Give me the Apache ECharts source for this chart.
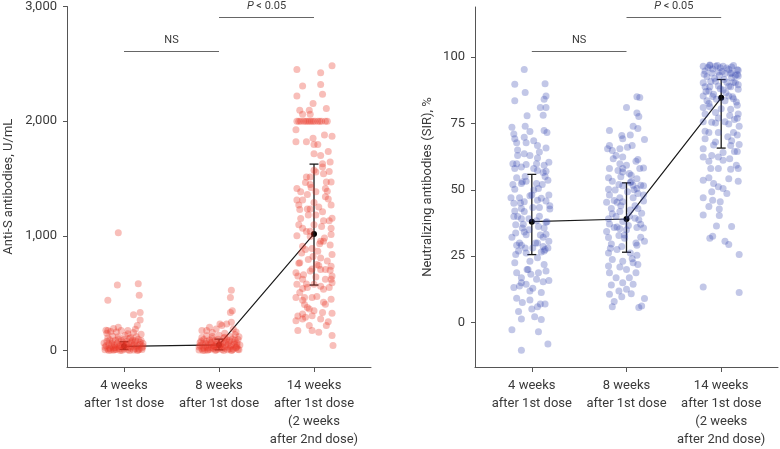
<!DOCTYPE html>
<html><head><meta charset="utf-8">
<script src="https://cdn.jsdelivr.net/npm/echarts@6/dist/echarts.min.js"></script>
<style>html,body{margin:0;padding:0;background:#fff}#c{width:780px;height:449px}</style>
</head><body><div id="c"></div>
<script>
// ---------- DATA ----------
const categories = ['4 weeks\nafter 1st dose', '8 weeks\nafter 1st dose', '14 weeks\nafter 1st dose\n(2 weeks\nafter 2nd dose)'];
const leftTicks = [0, 1000, 2000, 3000];
const rightTicks = [0, 25, 50, 75, 100];

// Anti-S antibodies (U/mL): [jitter, value]
const antiS_w4 = [[-0.20,5],[-0.17,12],[-0.14,3],[-0.11,20],[-0.08,8],[-0.05,15],[-0.02,2],[0.01,25],[0.04,6],[0.07,18],[0.10,4],[0.13,30],[0.16,10],[0.19,22],
[-0.19,40],[-0.16,55],[-0.13,35],[-0.10,48],[-0.07,62],[-0.04,38],[-0.01,70],[0.02,45],[0.05,58],[0.08,33],[0.11,66],[0.14,42],[0.17,52],[0.20,36],
[-0.18,80],[-0.15,92],[-0.12,75],[-0.09,88],[-0.06,100],[-0.03,84],[0.00,95],[0.03,78],[0.06,105],[0.09,90],[0.12,82],[0.15,98],[0.18,86],
[-0.20,28],[-0.15,18],[-0.10,7],[-0.05,44],[0.00,12],[0.05,27],[0.10,50],[0.15,3],[0.20,60],
[-0.17,110],[-0.12,125],[-0.06,118],[0.01,130],[0.07,112],[0.13,120],[0.18,140],
[-0.18,150],[-0.08,160],[0.10,155],[-0.14,165],[0.04,145],
[-0.21,65],[-0.09,25],[0.03,55],[0.12,14],[0.17,72],[-0.02,50],[-0.13,60],[0.08,75],[-0.06,32],[0.19,8],[-0.16,0],[0.06,0],[-0.04,0],[0.14,0],[-0.11,1],[0.00,40],
[-0.06,1026],[-0.17,438],[-0.07,570],[0.15,582],[0.16,481],[0.17,331],[0.10,311],[0.17,265],[0.14,216],[-0.06,202],[-0.17,173],[-0.03,173],[0.04,173],[-0.11,190],[0.12,185],[-0.19,175]];
const antiS_w8 = [[-0.21,4],[-0.18,14],[-0.15,2],[-0.12,22],[-0.09,9],[-0.06,16],[-0.03,3],[0.00,27],[0.03,7],[0.06,19],[0.09,5],[0.12,31],[0.15,11],[0.18,23],[0.21,6],
[-0.20,42],[-0.17,57],[-0.14,37],[-0.11,50],[-0.08,64],[-0.05,39],[-0.02,72],[0.01,46],[0.04,60],[0.07,34],[0.10,68],[0.13,44],[0.16,54],[0.19,38],[0.22,48],
[-0.19,82],[-0.16,94],[-0.13,77],[-0.10,90],[-0.07,102],[-0.04,86],[-0.01,97],[0.02,80],[0.05,108],[0.08,92],[0.11,84],[0.14,100],[0.17,88],[0.20,95],
[-0.21,30],[-0.16,20],[-0.11,8],[-0.06,45],[-0.01,13],[0.04,28],[0.09,52],[0.14,4],[0.19,62],
[-0.18,112],[-0.13,128],[-0.07,120],[0.00,132],[0.06,115],[0.12,122],[0.17,138],[0.21,118],
[-0.20,66],[-0.08,26],[0.02,56],[0.11,15],[0.16,74],[-0.03,51],[-0.14,61],[0.07,76],[-0.05,33],[0.20,9],[-0.17,0],[0.05,0],[-0.04,1],[0.13,0],[-0.12,2],[0.01,41],[0.18,28],[-0.09,70],
[0.13,525],[0.12,461],[0.14,346],[0.12,331],[0.13,245],[0.08,231],[0.03,216],[0.01,231],[-0.10,202],[-0.18,173],[-0.03,187],[0.15,187],[-0.13,173],[-0.07,155],[0.18,160],[0.06,150]];
const antiS_w14 = [[-0.18,2450],[0.19,2484],[0.07,2421],[-0.12,2306],[0.07,2320],[-0.18,2219],[0.09,2234],[-0.01,2153],[-0.15,2095],[-0.05,2095],[0.13,2110],[-0.12,2061],[-0.04,2061],
[-0.18,2000],[-0.16,2000],[-0.14,2000],[-0.11,2000],[-0.09,2000],[-0.07,2000],[-0.05,2000],[-0.03,2000],[-0.01,2000],[0.01,2000],[0.04,2000],[0.06,2000],[0.08,2000],[0.12,2000],[0.14,2000],
[-0.19,1925],[0.11,1879],[0.19,1868],[-0.19,1821],[-0.08,1821],[-0.01,1850],[0.00,1796],[0.04,1796],[0.15,1735],[0.00,1715],[0.07,1700],[0.17,1643],[0.09,1628],[0.00,1571],[0.02,1556],
[-0.08,1513],[-0.04,1513],[0.10,1542],[0.18,1470],[-0.09,1464],[-0.04,1447],[-0.18,1412],[-0.14,1383],[0.02,1383],[0.12,1412],[0.14,1389],[-0.18,1311],[-0.16,1268],[-0.12,1311],
[0.12,1340],[0.18,1268],[-0.07,1233],[-0.04,1233],[0.02,1182],[0.09,1210],[0.19,1153],[0.16,1130],[-0.16,1095],[-0.12,1066],[0.00,1095],[-0.08,1038],[0.18,1066],[-0.04,994],
[0.07,951],[0.10,951],[-0.12,908],[-0.02,888],[0.04,865],[0.19,836],[-0.06,793],[0.07,807],[-0.15,764],[0.18,735],[0.03,749],[-0.19,677],[-0.17,648],[-0.04,692],[0.07,706],[0.12,706],
[-0.12,620],[0.18,620],[0.19,648],[0.00,576],[-0.18,576],[-0.07,548],[0.10,533],[0.16,548],[-0.15,504],[-0.10,461],[-0.12,438],[-0.02,461],[-0.19,461],[0.18,447],[0.12,403],
[-0.07,375],[0.00,346],[0.09,331],[0.19,323],[-0.12,317],[-0.09,288],[-0.02,303],[-0.19,259],[-0.12,274],[0.07,274],[0.13,216],[-0.05,216],[-0.17,173],[-0.02,173],[0.05,159],[0.19,130],[0.20,43],
[-0.14,1150],[0.05,1250],[0.15,1320],[-0.03,1420],[0.11,980],[-0.09,880],[0.17,700],[-0.16,760],[0.02,640],[0.08,1080],[-0.06,1180],[0.13,1470],[-0.12,540],[0.19,590],[-0.01,820],
[0.06,930],[-0.18,1000],[0.10,1130],[-0.07,1360],[0.16,1560],[-0.11,660],[0.03,470],[0.14,780],[-0.04,1040],[0.09,1600],[-0.15,1230],[0.18,1010],[-0.02,710],[0.07,560],[-0.10,400],
[0.12,620],[0.00,1290],[-0.13,850],[0.05,740],[0.17,920],[-0.08,580],[0.10,420],[-0.05,360],[0.15,250],[-0.17,300]];
const antiS_mean = [35, 48, 1016];
const antiS_low = [8, 5, 570];
const antiS_high = [75, 98, 1625];

// Neutralizing antibodies (SIR, %): [jitter, value]
const nab_w4 = [[-0.08,95.3],[-0.18,89.7],[0.14,89.9],[-0.07,86.6],[0.15,85.3],[-0.18,83.5],[0.13,84.1],[0.15,81],[0.09,81],[0.12,78.1],[-0.05,77.9],[-0.21,73.5],[-0.07,73.9],[0.13,72.3],
[0.16,71.6],[-0.19,71],[-0.02,71.9],[-0.08,69.8],[-0.18,69.2],[-0.16,67.7],[-0.06,67.7],[0.02,68.5],[0.06,66.7],[0.15,65.7],[0.08,64.2],[-0.08,63.6],[-0.02,62.9],[-0.15,62.9],
[-0.20,59.8],[-0.16,59.8],[-0.06,59.5],[0.05,59.8],[0.18,60.4],[0.13,59.2],[0.15,57],[-0.18,58],[-0.11,58.6],[0.06,57.3],[0.12,56.5],[-0.16,54.5],[-0.10,53],[-0.06,53.2],[-0.11,52.4],
[0.05,52.4],[0.17,53.6],[-0.18,50.2],[0.02,49.9],[0.07,50.5],[-0.22,47],[-0.13,47],[-0.02,47.8],[0.10,46.8],[0.18,48],[-0.19,44.9],[-0.08,45.5],[0.06,46.1],[0.15,45.8],[-0.11,43],
[0.01,43.3],[0.08,43.3],[0.19,42.8],[-0.08,41.8],[-0.19,39.9],[-0.15,39.9],[-0.11,39.1],[-0.03,39.1],[0.05,38.3],[0.15,37.8],[-0.17,36.8],[-0.10,35.6],[0.07,36.2],[0.13,35.6],
[-0.17,33.7],[-0.08,34.1],[-0.06,33.1],[0.15,33.3],[0.12,32.1],[-0.21,32.1],[-0.13,30],[0.06,30],[0.18,30.6],[-0.16,29.1],[-0.11,29.1],[-0.07,28.1],[0.12,28.7],[0.14,27.5],[0.17,28.1],
[0.01,28.1],[0.10,26.6],[-0.17,25.6],[-0.06,26.2],[-0.02,23.1],[-0.18,22.5],[0.06,24.4],[0.13,21.9],[-0.04,20],[0.15,19.4],[0.07,18.8],[-0.16,18.8],[-0.11,16.9],[-0.01,18.2],
[0.18,15.9],[0.05,16.3],[0.12,15.4],[-0.11,15],[-0.13,13.8],[-0.06,14.4],[-0.19,13.2],[0.01,12.9],[-0.02,11.9],[0.10,11.3],[-0.16,9.2],[-0.02,8.5],[-0.10,7.6],[0.09,7],[0.14,7],
[0.00,5.1],[0.06,6],[-0.14,4.2],[-0.11,1.4],[0.03,2.2],[0.10,1.2],[-0.21,-2.7],[0.07,-3.4],[0.17,-8],[-0.11,-10.4],
[-0.12,45],[0.08,40],[-0.03,35],[0.11,52],[-0.18,42],[0.04,30],[-0.07,55],[0.16,38],[-0.14,27],[0.00,48],[0.13,27],[-0.09,37],[0.06,62],[-0.20,52],[0.19,44],[-0.05,20],[0.09,33],
[-0.15,65],[0.02,58],[0.14,55]];
const nab_w8 = [[0.11,85],[0.14,84.7],[0.00,81],[0.11,78.9],[0.13,77.6],[0.07,73.9],[0.12,73.1],[-0.18,72.3],[-0.05,70.4],[0.04,70.6],[-0.04,69.2],[0.19,68.9],[-0.18,66.7],[0.01,66],
[0.06,66.7],[-0.15,64.8],[-0.07,65.4],[-0.20,65.4],[-0.11,62.9],[-0.04,62.3],[0.12,61.4],[0.10,60.7],[-0.14,61.7],[-0.07,59.8],[0.00,59.2],[0.14,58],[0.18,58.2],[-0.18,58],
[-0.09,57.3],[-0.04,56.7],[0.03,56.1],[0.05,55.5],[-0.06,54.9],[-0.19,54.5],[0.11,54.2],[-0.15,53.2],[0.04,52.7],[0.07,51.7],[0.15,51.7],[0.18,51.5],[-0.04,51.5],[0.11,50.5],
[-0.19,50.2],[-0.12,49.9],[0.01,49.3],[0.12,48.6],[-0.18,48],[-0.07,47],[0.07,47],[0.18,45.8],[-0.10,45.3],[-0.04,45.5],[-0.21,45.3],[0.09,44],[-0.16,43],[0.04,42.4],[-0.07,41.8],
[0.16,41.2],[-0.11,39.9],[-0.19,39.1],[0.09,39.3],[0.13,38.7],[-0.04,38.1],[-0.18,37.1],[-0.13,35.8],[-0.07,35.3],[0.02,36.6],[0.11,35.8],[0.18,35.6],[-0.21,34.3],[-0.08,32.8],
[-0.02,31.8],[0.15,32.1],[0.19,30.6],[-0.16,29.6],[-0.05,28.7],[0.11,29.1],[-0.10,27.5],[-0.19,26.2],[0.04,26.2],[0.11,25.4],[-0.15,23.8],[-0.04,23.1],[0.07,22.5],[0.12,21.9],
[-0.19,21.3],[-0.07,20.9],[0.00,20],[-0.18,18.8],[0.10,18.8],[-0.11,16.9],[0.03,16.9],[-0.04,15],[0.07,14.4],[-0.16,14.2],[0.00,12.6],[-0.08,11.9],[0.05,10.9],[-0.18,10.7],
[0.19,9.1],[-0.05,9.7],[-0.13,8],[-0.15,6],[0.16,6.3],[0.13,5.7],
[-0.06,44],[0.03,40],[-0.10,36],[0.08,50],[-0.13,46],[0.12,43],[-0.02,33],[0.05,53],[-0.17,28],[0.15,37],[-0.08,52],[0.10,30],[0.00,35],[-0.04,58],[0.06,24],[-0.15,41],[0.18,48],[-0.19,32]];
const nab_w14 = [[-0.19,96.5],[-0.12,96.8],[-0.06,96.5],[-0.01,95.9],[0.02,96.5],[0.13,96.8],[0.18,95],[0.08,95.3],[-0.17,94.7],[-0.10,94],[-0.03,94.3],[0.04,93.8],[0.10,93.8],
[0.17,93.4],[-0.15,92.5],[0.11,92.2],[0.18,92.8],[-0.19,90.3],[-0.06,90.9],[0.06,90.5],[0.15,90.3],[-0.17,88.8],[-0.12,88.8],[-0.03,89.1],[0.10,88.8],[0.18,87.8],[-0.13,87.2],
[0.02,87.6],[-0.19,85.3],[-0.09,85.1],[0.08,85.3],[0.13,84.3],[-0.15,83.5],[-0.05,84.1],[0.04,83.5],[-0.19,81],[-0.12,81.3],[0.17,81.8],[0.10,80.3],[-0.06,79.1],[0.18,78.5],
[-0.17,78.5],[0.17,76.9],[-0.10,75.4],[-0.06,75.1],[0.04,75.6],[-0.19,75.6],[0.19,73.9],[0.08,74.8],[0.13,71.6],[0.17,70.6],[-0.13,71.6],[-0.03,71.6],[0.11,68.5],[-0.17,69.2],
[-0.08,66.9],[0.10,66.7],[-0.19,65.4],[0.14,64.4],[0.17,64.4],[-0.10,62.9],[-0.03,62.3],[0.02,61.1],[-0.19,62.3],[0.09,61.7],[-0.13,60.7],[0.16,59.2],[0.18,58],[-0.11,58],
[-0.03,58],[0.10,57.7],[-0.19,53.6],[0.18,53.2],[-0.08,52.4],[-0.13,54.5],[0.08,54.2],[-0.03,51.1],[0.02,50.5],[0.06,48.6],[-0.10,49.3],[-0.19,47],[-0.09,46.1],[-0.01,45.5],
[-0.13,43.7],[-0.02,42.8],[-0.19,40.5],[-0.02,40.3],[-0.05,36.4],[0.11,36.2],[-0.09,32.5],[-0.12,31.8],[0.04,30.6],[0.08,29.4],[0.19,25.6],[-0.19,13.4],[0.19,11.3],
[-0.14,96],[-0.09,95.5],[-0.04,96.8],[0.01,94.5],[0.06,95.8],[0.11,94],[0.15,93],[-0.18,93.5],[-0.07,92],[0.03,91.5],[0.13,90.5],[-0.11,90.8],[0.08,89],[-0.01,88],[0.18,89.5],
[-0.16,87],[0.05,86.5],[0.12,85],[-0.08,86],[0.16,83],[-0.13,82.5],[0.00,80.5],[0.09,78],[-0.03,77],[0.14,76.5],[-0.17,72],[0.07,70],[-0.06,68],[0.19,67],[0.02,64],[0.11,96.2],
[-0.12,97],[0.17,95.2],[-0.02,93]];
const nab_mean = [38.0, 39.0, 84.6];
const nab_low = [25.6, 26.5, 65.7];
const nab_high = [55.8, 52.6, 91.5];

// ---------- BUILD ----------
const FONT = 'Roboto';
const TXT = '#3a3a3a';
function place(groups) {
  const out = [];
  groups.forEach((g, i) => g.forEach(p => out.push([i + p[0], p[1]])));
  return out;
}
function errData(low, high) { return low.map((l, i) => [i, l, high[i]]); }
function meanData(m) { return m.map((v, i) => [i, v]); }

function errRender(params, api) {
  const x = api.value(0);
  const pLo = api.coord([x, api.value(1)]);
  const pHi = api.coord([x, api.value(2)]);
  const w = 4.5;
  const st = { stroke: '#1a1a1a', lineWidth: 1.3 };
  return { type: 'group', children: [
    { type: 'line', shape: { x1: pLo[0], y1: pLo[1], x2: pHi[0], y2: pHi[1] }, style: st },
    { type: 'line', shape: { x1: pLo[0] - w, y1: pLo[1], x2: pLo[0] + w, y2: pLo[1] }, style: st },
    { type: 'line', shape: { x1: pHi[0] - w, y1: pHi[1], x2: pHi[0] + w, y2: pHi[1] }, style: st }
  ]};
}

function xAxis(gi) {
  return {
    type: 'value', gridIndex: gi, min: -0.6, max: 2.6,
    splitLine: { show: false },
    axisLine: { onZero: false, lineStyle: { color: '#555', width: 1 } },
    axisTick: { show: true, customValues: [0, 1, 2], length: 5, lineStyle: { color: '#555' } },
    axisLabel: { customValues: [0, 1, 2], formatter: v => categories[Math.round(v)], color: TXT,
      fontFamily: FONT, fontSize: 13, lineHeight: 18, margin: 10, align: 'center', verticalAlign: 'top' }
  };
}
function yAxis(gi, min, max, ticks, name, gap, fmt) {
  return {
    type: 'value', gridIndex: gi, min: min, max: max,
    name: name, nameLocation: 'middle', nameGap: gap, nameRotate: 90,
    nameTextStyle: { color: TXT, fontFamily: FONT, fontSize: 13 },
    splitLine: { show: false },
    axisLine: { show: true, onZero: false, lineStyle: { color: '#555', width: 1 } },
    axisTick: { show: true, customValues: ticks, length: 4, lineStyle: { color: '#555' } },
    axisLabel: { customValues: ticks, formatter: fmt, color: TXT, fontFamily: FONT, fontSize: 13, margin: 10 }
  };
}
function annot(y1, y2) {
  return {
    silent: true, symbol: 'none', animation: false,
    lineStyle: { color: '#666', width: 1, type: 'solid' },
    label: { show: true, position: 'middle', distance: 5, color: TXT, fontFamily: FONT, fontSize: 11,
      rich: { i: { fontStyle: 'italic', fontFamily: FONT, fontSize: 11, color: TXT } } },
    data: [
      [{ coord: [0, y1], label: { formatter: 'NS' } }, { coord: [1, y1] }],
      [{ coord: [1, y2], label: { formatter: '{i|P} < 0.05' } }, { coord: [2, y2] }]
    ]
  };
}

const chart = echarts.init(document.getElementById('c'), null, { renderer: 'canvas' });
chart.setOption({
  animation: false,
  backgroundColor: '#fff',
  grid: [
    { left: 67, right: 409, top: 6, bottom: 79 },
    { left: 475, right: 2, top: 7, bottom: 79 }
  ],
  xAxis: [xAxis(0), xAxis(1)],
  yAxis: [
    yAxis(0, -145, 3000, leftTicks, 'Anti-S antibodies, U/mL', 52, v => v.toLocaleString('en-US')),
    yAxis(1, -16.7, 118.8, rightTicks, 'Neutralizing antibodies (SIR), %', 41, v => String(v))
  ],
  series: [
    { type: 'line', xAxisIndex: 0, yAxisIndex: 0, data: meanData(antiS_mean), symbol: 'circle', symbolSize: 6,
      lineStyle: { color: '#1a1a1a', width: 1.2 }, itemStyle: { color: '#000' }, z: 2 },
    { type: 'custom', xAxisIndex: 0, yAxisIndex: 0, renderItem: errRender, data: errData(antiS_low, antiS_high),
      encode: { x: 0, y: [1, 2] }, z: 3 },
    { type: 'scatter', xAxisIndex: 0, yAxisIndex: 0, symbolSize: 7, silent: true, z: 10,
      itemStyle: { color: 'rgba(232,52,38,0.4)' },
      data: place([antiS_w4, antiS_w8, antiS_w14]),
      markLine: annot(2610, 2909) },
    { type: 'line', xAxisIndex: 1, yAxisIndex: 1, data: meanData(nab_mean), symbol: 'circle', symbolSize: 6,
      lineStyle: { color: '#1a1a1a', width: 1.2 }, itemStyle: { color: '#000' }, z: 2 },
    { type: 'custom', xAxisIndex: 1, yAxisIndex: 1, renderItem: errRender, data: errData(nab_low, nab_high),
      encode: { x: 0, y: [1, 2] }, z: 3 },
    { type: 'scatter', xAxisIndex: 1, yAxisIndex: 1, symbolSize: 7, silent: true, z: 10,
      itemStyle: { color: 'rgba(55,72,175,0.38)' },
      data: place([nab_w4, nab_w8, nab_w14]),
      markLine: annot(102.2, 115) }
  ]
});
</script>
</body></html>
